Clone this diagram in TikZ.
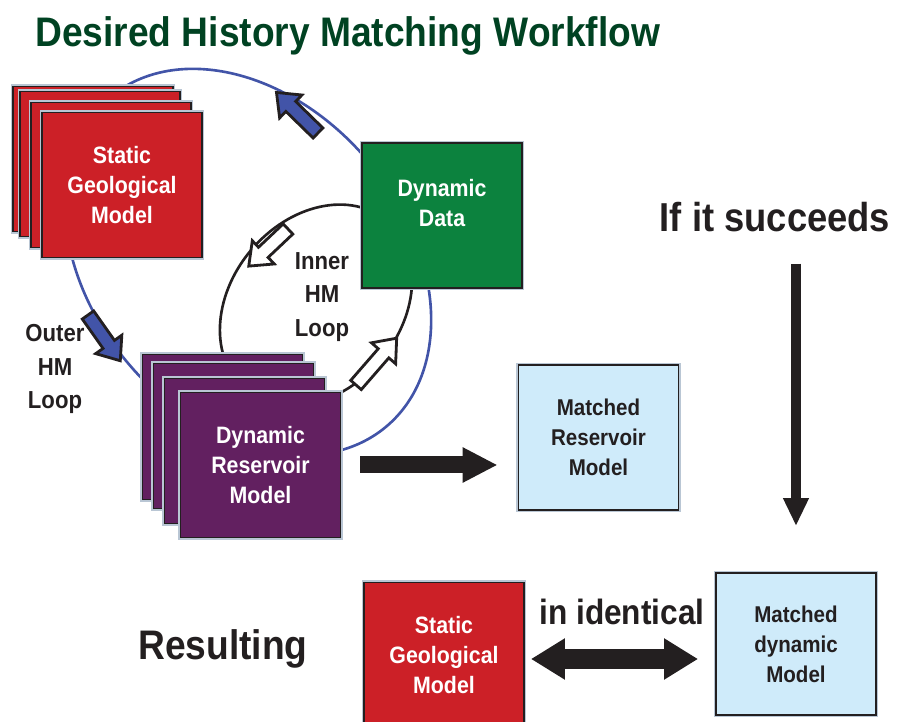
\documentclass[tikz,border=0pt]{standalone}
\usepackage{fontspec}
\setmainfont{Liberation Sans}[FakeStretch=0.9]
\usepackage{tikz}
\usetikzlibrary{arrows.meta, positioning, calc}
\definecolor{ink}{RGB}{35,31,32}
\definecolor{halo}{RGB}{185,198,212}
\definecolor{geoRed}{RGB}{204,32,39}
\definecolor{resPurple}{RGB}{98,32,96}
\definecolor{dataGreen}{RGB}{12,130,62}
\definecolor{matchBlue}{RGB}{207,235,250}
\definecolor{loopBlue}{RGB}{66,84,168}
\definecolor{titleGreen}{RGB}{0,66,34}

\begin{document}
\begin{tikzpicture}[x=0.02cm, y=-0.02cm,
  modelbox/.style={rectangle, minimum width=3.2cm, minimum height=2.9cm, inner sep=0pt,
                   draw=ink, line width=1.1pt, preaction={draw=halo, line width=2.8pt},
                   align=center, font=\fontsize{13.5}{17}\selectfont\bfseries},
  geobox/.style={modelbox, fill=geoRed, text=white},
  resbox/.style={modelbox, fill=resPurple, text=white},
  databox/.style={modelbox, fill=dataGreen, text=white},
  matchbox/.style={modelbox, fill=matchBlue, text=ink,
                   font=\fontsize{13}{17}\selectfont\bfseries},
  looplabel/.style={align=center, text=ink, font=\fontsize{14}{19}\selectfont\bfseries},
  bigword/.style={anchor=base, text=ink, font=\fontsize{23}{26}\selectfont\bfseries},
  fatarrow/.style={draw=ink, line width=0.34cm, -{Triangle[length=0.7cm, width=0.66cm]}},
  bluedart/.style={fill=loopBlue, draw=ink, line width=1.6pt},
  whitedart/.style={fill=white, draw=ink, line width=1.6pt},
  dart/.pic={\path[pic actions] (0,-7) -- (#1-20,-7) -- (#1-20,-16) -- (#1,0)
                 -- (#1-20,16) -- (#1-20,7) -- (0,7) -- cycle;}
]
\useasboundingbox (0,0) rectangle (897,722);

% Titel
\node[anchor=base west, inner sep=0pt, text=titleGreen,
      font=\fontsize{23.5}{28}\selectfont\bfseries] (title) at (35,47)
      {Desired History Matching Workflow};

% Loops (behind the boxes)
\coordinate (outerc) at (248,262);
\coordinate (innerc) at (316,305);
\draw[loopBlue, line width=1.5pt, rotate around={-50:(outerc)}]
  (outerc) ellipse [x radius=4.3cm, y radius=3.14cm];
\draw[ink, line width=1.5pt, rotate around={50:(innerc)}]
  (innerc) ellipse [x radius=2.2cm, y radius=1.7cm];

% Static geological model stack
\foreach \dx/\dy [count=\i] in {-29/-26, -22/-21, -11/-10}
  \node[geobox] (geo\i) at (122+\dx,185+\dy) {};
\node[geobox] (geo) at (122,185) {Static\\Geological\\Model};

% Dynamic data
\node[databox] (dyn) at (442,215.5) {Dynamic\\Data\rule[-0.5cm]{0pt}{0.5cm}};

% Dynamic reservoir model stack
\foreach \dx/\dy [count=\i] in {-38/-38, -27/-29, -16/-14}
  \node[resbox] (drm\i) at (260.5+\dx,465+\dy) {};
\node[resbox] (drm) at (260.5,465) {Dynamic\\Reservoir\\Model};

% Results
\node[matchbox] (mrm) at (598.5,437.5) {Matched\\Reservoir\\Model};
\node[geobox] (geoRes) at (444,655) {Static\\Geological\\Model};
\node[matchbox, minimum height=2.84cm] (mdm) at (796,644) {Matched\\dynamic\\Model};

% Loop labels and words
\node[looplabel] (inner) at (322,297) {Inner\\HM\\Loop};
\node[looplabel] (outer) at (55,369) {Outer\\HM\\Loop};
\node[bigword] (succ) at (775,232) {If it succeeds};
\node[bigword, font=\fontsize{23.5}{26}\selectfont\bfseries] (result) at (223,660) {Resulting};
\node[bigword, font=\fontsize{20}{24}\selectfont\bfseries] (ident) at (622,625) {in identical};

% Loop direction arrows
\pic[bluedart, rotate=135.7] at (318,133) {dart=58};
\pic[bluedart, rotate=-54.8] at (88,315) {dart=56};
\pic[whitedart, rotate=223.4] at (288,229) {dart=54};
\pic[whitedart, rotate=49] at (356,385) {dart=62};

% Fat arrows
\draw[fatarrow, shorten <=0.38cm, shorten >=0.4cm] (drm.east) -- (drm.east -| mrm.west);
\draw[fatarrow, line width=0.2cm, -{Triangle[length=0.56cm, width=0.48cm]},
      shorten <=0.5cm, shorten >=0.92cm] (mdm.north |- succ.south) -- (mdm.north);
\draw[fatarrow, line width=0.4cm,
      {Triangle[length=0.68cm, width=0.78cm]}-{Triangle[length=0.68cm, width=0.78cm]},
      shorten <=0.12cm, shorten >=0.34cm]
  ([yshift=-0.08cm]geoRes.east) -- ([yshift=-0.08cm]geoRes.east -| mdm.west);

\end{tikzpicture}
\end{document}
